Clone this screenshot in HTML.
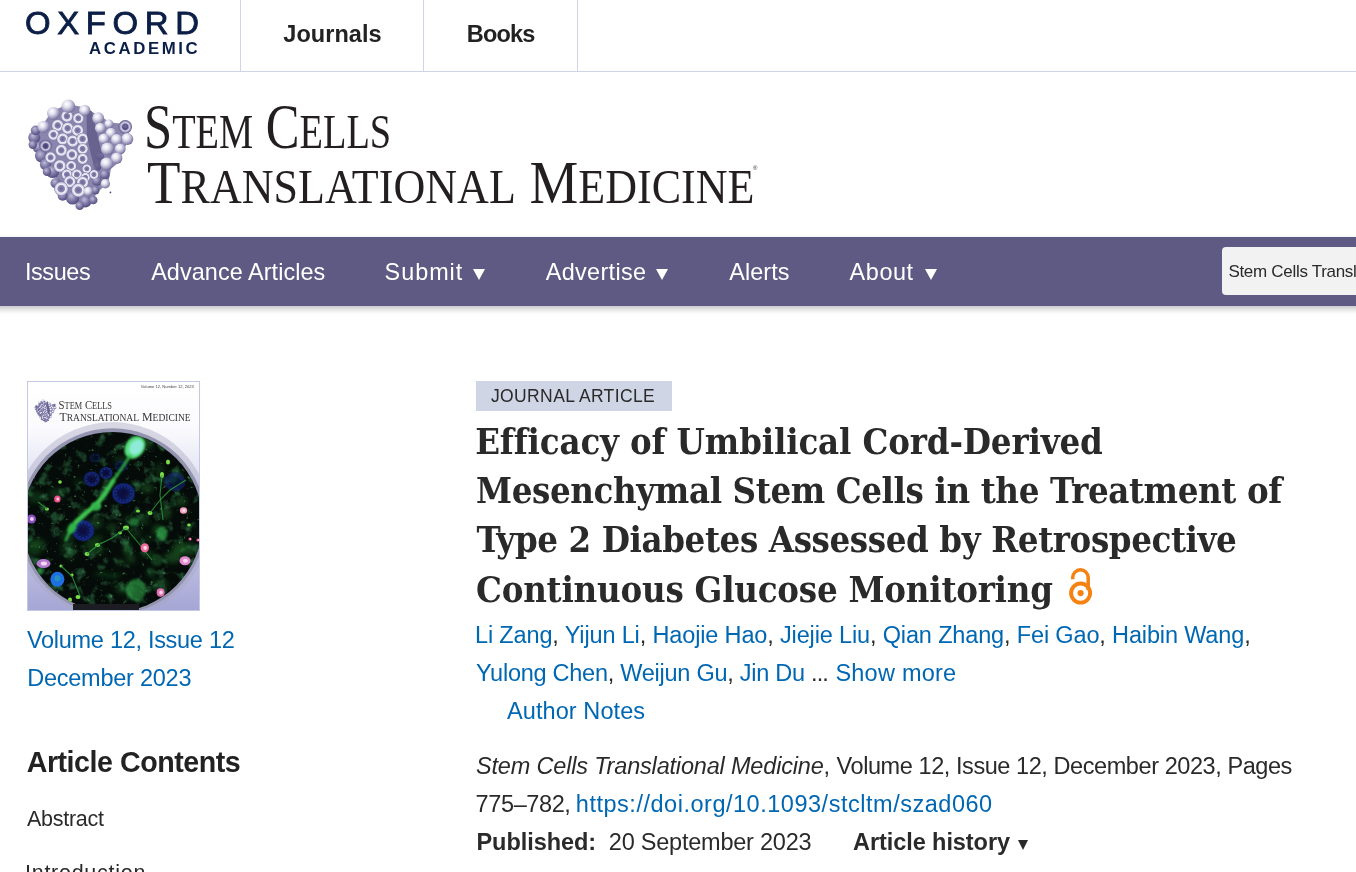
<!DOCTYPE html>
<html lang="en">
<head>
<meta charset="utf-8">
<title>Efficacy of Umbilical Cord-Derived Mesenchymal Stem Cells in the Treatment of Type 2 Diabetes</title>
<style>
*{box-sizing:border-box;margin:0;padding:0}
html,body{width:1356px;height:872px;overflow:hidden;background:#fff}
body{font-family:"Liberation Sans",sans-serif;color:#2a2a2a;position:relative}
a{text-decoration:none;color:#0067b3}
.abs{position:absolute;white-space:nowrap}

/* top bar */
#topbar{position:absolute;left:0;top:0;width:1356px;height:72px;border-bottom:1px solid #cfd5e6}
.vdiv{position:absolute;top:0;width:1px;height:71px;background:#cfd5e6}
#oxford{font-size:30.6px;line-height:34px;color:#0b1e46;font-weight:400;-webkit-text-stroke:.8px #0b1e46;transform:scaleX(1.075);transform-origin:0 0}
#academic{font-size:16.8px;line-height:20px;color:#0b1e46;font-weight:700}
.toplink{font-weight:700;font-size:23.5px;line-height:30px;color:#222;top:18px;letter-spacing:.35px}

/* journal banner */
.jt{font-family:"Liberation Serif",serif;color:#231f20;font-size:63.4px;line-height:62px;transform-origin:0 0}
.jt span{font-size:47.5px}

/* nav */
#navbg{position:absolute;left:-30px;top:237px;width:1416px;height:68.6px;background:#5f5a83;box-shadow:0 3px 6px rgba(0,0,0,.24)}
#nav{position:absolute;left:0;top:237px;width:1356px;height:68.6px}
.navi{color:#fff;font-size:23.4px;line-height:30px;top:19px;letter-spacing:.3px}
.tri{position:absolute;width:0;height:0;border-left:6.5px solid transparent;border-right:6.5px solid transparent;border-top:11.3px solid #fff}
#search{position:absolute;left:1222px;top:9.9px;width:140px;height:47.9px;background:#f2f2f2;border-radius:4px 0 0 4px;color:#2a2a2a;font-size:17px;line-height:47px;white-space:nowrap;overflow:hidden}

/* left column */
.blue{color:#0067b3}
.side{font-size:23.5px;line-height:38px}
#ac{font-weight:700;font-size:28.6px;line-height:36px;color:#222}
.toc{font-size:21.5px;line-height:30px;color:#2a2a2a}

/* main */
#badge{position:absolute;left:476px;top:381.1px;width:195.8px;height:29.6px;background:#d0d5e6;color:#2a2a2a;font-size:17.5px;line-height:30px;white-space:nowrap}
#title{position:absolute;left:476px;top:416px;width:860px;font-family:"DejaVu Serif Condensed","DejaVu Serif","Liberation Serif",serif;font-stretch:condensed;font-weight:700;font-size:36.2px;line-height:49.2px;color:#2a2a2a;white-space:nowrap}
.auth{font-size:23.5px;line-height:38px;color:#2a2a2a}
.cite{font-size:23.5px;line-height:38px;color:#2a2a2a}
</style>
</head>
<body>

<div id="topbar">
  <div class="abs" id="oxford" style="left:25.0px;top:5.6px;letter-spacing:6.20px">OXFORD</div>
  <div class="abs" id="academic" style="left:89.0px;top:38.7px;letter-spacing:2.60px">ACADEMIC</div>
  <div class="vdiv" style="left:240px"></div>
  <div class="abs toplink" id="journals" style="left:283.3px;top:19.3px;letter-spacing:0.04px">Journals</div>
  <div class="vdiv" style="left:423px"></div>
  <div class="abs toplink" id="books" style="left:466.8px;top:19.3px;letter-spacing:-0.80px">Books</div>
  <div class="vdiv" style="left:577px"></div>
</div>

<div id="banner">
  <div class="abs jt" id="jtitle1" style="left:143.6px;top:96.1px;transform:scaleX(.799)">S<span style="font-size:48px">TEM</span> C<span style="font-size:48px">ELLS</span></div>
  <div class="abs jt" id="jtitle2" style="left:147.4px;top:151.7px;transform:scaleX(.9066);font-size:60.5px">T<span style="font-size:48.6px">RANSLATIONAL</span> M<span style="font-size:48.6px">EDICINE</span></div>
  <div class="abs" style="left:753px;top:164px;font-size:6px;line-height:8px;color:#231f20;font-family:'Liberation Sans',sans-serif">®</div>
</div>

<div id="navbg"></div>
<div id="nav">
  <div class="abs navi" id="issues" style="left:24.9px;top:20.2px;letter-spacing:-0.36px">Issues</div>
  <div class="abs navi" id="advance" style="left:151.2px;top:20.2px;letter-spacing:0.08px">Advance Articles</div>
  <div class="abs navi" id="submit" style="left:384.6px;top:20.2px;letter-spacing:0.98px">Submit</div>
  <div class="abs navi" id="advertise" style="left:545.8px;top:20.2px;letter-spacing:0.34px">Advertise</div>
  <div class="abs navi" id="alerts" style="left:729.2px;top:20.2px;letter-spacing:0.10px">Alerts</div>
  <div class="abs navi" id="about" style="left:849.6px;top:20.2px;letter-spacing:0.60px">About</div>
  <div class="tri" style="left:473.4px;top:31.9px"></div>
  <div class="tri" style="left:655.9px;top:31.9px"></div>
  <div class="tri" style="left:924.6px;top:31.9px"></div>
  <div id="search"><span class="abs" id="searchtxt" style="left:6.4px;top:0.7px;letter-spacing:-0.3px">Stem Cells Translational Medicine</span></div>
</div>

<!--GFX-->
<svg style="position:absolute;left:20px;top:92px" width="124" height="124" viewBox="0 0 872 872"><defs><radialGradient id="lgs" cx="38%" cy="34%" r="70%"><stop offset="0" stop-color="#ffffff"/><stop offset=".35" stop-color="#e4e2f0"/><stop offset=".75" stop-color="#9e9abd"/><stop offset="1" stop-color="#696590"/></radialGradient><radialGradient id="lgd" cx="40%" cy="35%" r="70%"><stop offset="0" stop-color="#bebbd8"/><stop offset=".5" stop-color="#807ba8"/><stop offset="1" stop-color="#4c4679"/></radialGradient><radialGradient id="lgr" cx="50%" cy="50%" r="50%"><stop offset="0" stop-color="#6a6494"/><stop offset=".45" stop-color="#8a85b0"/><stop offset=".6" stop-color="#f0eff7"/><stop offset=".82" stop-color="#d9d7ea"/><stop offset="1" stop-color="#7b75a2"/></radialGradient><radialGradient id="lgq" cx="50%" cy="50%" r="50%"><stop offset="0" stop-color="#3f3a6b"/><stop offset=".4" stop-color="#5d578c"/><stop offset=".6" stop-color="#d5d3e8"/><stop offset="1" stop-color="#5a5488"/></radialGradient><filter id="lgb" x="-5%" y="-5%" width="110%" height="110%"><feGaussianBlur stdDeviation="5.2"/></filter></defs><g filter="url(#lgb)"><path d="M340 85 L460 110 L550 165 L640 215 L735 225 L770 300 L760 350 L720 420 L700 490 L640 540 L620 640 L550 700 L490 780 L440 790 L360 770 L290 720 L265 680 L275 620 L210 570 L150 490 L115 400 L90 320 L130 270 L170 215 L225 135 Z" fill="#8985ad"/><circle cx="100" cy="320" r="42" fill="url(#lgd)"/><circle cx="130" cy="390" r="40" fill="url(#lgd)"/><circle cx="150" cy="450" r="45" fill="url(#lgd)"/><circle cx="180" cy="510" r="40" fill="url(#lgd)"/><circle cx="230" cy="560" r="45" fill="url(#lgd)"/><circle cx="595" cy="580" r="35" fill="url(#lgd)"/><circle cx="540" cy="625" r="35" fill="url(#lgd)"/><circle cx="530" cy="690" r="30" fill="url(#lgd)"/><circle cx="370" cy="745" r="47" fill="url(#lgd)"/><circle cx="460" cy="770" r="42" fill="url(#lgd)"/><circle cx="300" cy="730" r="35" fill="url(#lgd)"/><circle cx="560" cy="450" r="30" fill="url(#lgd)"/><circle cx="545" cy="520" r="30" fill="url(#lgd)"/><circle cx="110" cy="270" r="34" fill="url(#lgd)"/><circle cx="250" cy="640" r="36" fill="url(#lgd)"/><circle cx="420" cy="800" r="30" fill="url(#lgd)"/><circle cx="515" cy="760" r="30" fill="url(#lgd)"/><circle cx="190" cy="560" r="30" fill="url(#lgd)"/><circle cx="90" cy="370" r="30" fill="url(#lgd)"/><circle cx="330" cy="170" r="43" fill="url(#lgr)"/><circle cx="410" cy="185" r="40" fill="url(#lgr)"/><circle cx="265" cy="235" r="43" fill="url(#lgr)"/><circle cx="335" cy="255" r="43" fill="url(#lgr)"/><circle cx="405" cy="270" r="43" fill="url(#lgr)"/><circle cx="235" cy="300" r="40" fill="url(#lgr)"/><circle cx="300" cy="330" r="43" fill="url(#lgr)"/><circle cx="370" cy="345" r="43" fill="url(#lgr)"/><circle cx="440" cy="330" r="43" fill="url(#lgr)"/><circle cx="290" cy="410" r="43" fill="url(#lgr)"/><circle cx="365" cy="440" r="43" fill="url(#lgr)"/><circle cx="440" cy="400" r="40" fill="url(#lgr)"/><circle cx="215" cy="460" r="40" fill="url(#lgr)"/><circle cx="280" cy="520" r="45" fill="url(#lgr)"/><circle cx="360" cy="520" r="39" fill="url(#lgr)"/><circle cx="440" cy="470" r="39" fill="url(#lgr)"/><circle cx="470" cy="540" r="34" fill="url(#lgr)"/><circle cx="330" cy="580" r="39" fill="url(#lgr)"/><circle cx="400" cy="580" r="39" fill="url(#lgr)"/><circle cx="460" cy="600" r="34" fill="url(#lgr)"/><circle cx="520" cy="580" r="34" fill="url(#lgr)"/><circle cx="350" cy="630" r="43" fill="url(#lgr)"/><circle cx="440" cy="635" r="43" fill="url(#lgr)"/><circle cx="290" cy="680" r="50" fill="url(#lgr)"/><circle cx="410" cy="690" r="50" fill="url(#lgr)"/><circle cx="180" cy="380" r="44" fill="url(#lgq)"/><circle cx="740" cy="245" r="48" fill="url(#lgq)"/><path d="M468 120 L505 135 L545 300 L575 430 L560 560 L520 520 L490 400 L470 300 Z" fill="#5d5886" opacity=".78"/><circle cx="340" cy="100" r="48" fill="url(#lgs)"/><circle cx="235" cy="150" r="45" fill="url(#lgs)"/><circle cx="455" cy="130" r="40" fill="url(#lgs)"/><circle cx="550" cy="185" r="42" fill="url(#lgs)"/><circle cx="165" cy="245" r="42" fill="url(#lgs)"/><circle cx="625" cy="225" r="32" fill="url(#lgs)"/><circle cx="565" cy="255" r="38" fill="url(#lgs)"/><circle cx="640" cy="290" r="38" fill="url(#lgs)"/><circle cx="755" cy="330" r="42" fill="url(#lgs)"/><circle cx="680" cy="335" r="40" fill="url(#lgs)"/><circle cx="590" cy="330" r="38" fill="url(#lgs)"/><circle cx="615" cy="400" r="45" fill="url(#lgs)"/><circle cx="705" cy="400" r="38" fill="url(#lgs)"/><circle cx="680" cy="465" r="40" fill="url(#lgs)"/><circle cx="610" cy="505" r="45" fill="url(#lgs)"/><circle cx="600" cy="645" r="33" fill="url(#lgs)"/><circle cx="480" cy="700" r="33" fill="url(#lgs)"/><circle cx="740" cy="240" r="14" fill="#6a6496"/><circle cx="636" cy="706" r="6" fill="#4a4570"/></g></svg>
<svg style="position:absolute;left:27px;top:381px" width="173" height="230" viewBox="0 0 173 230"><defs><linearGradient id="cvbg" x1="0" y1="0" x2="0" y2="1"><stop offset="0" stop-color="#ffffff"/><stop offset=".2" stop-color="#fbfbfe"/><stop offset=".55" stop-color="#d4d4ec"/><stop offset="1" stop-color="#a6a6d6"/></linearGradient><clipPath id="cvclip"><circle cx="85.5" cy="141" r="90"/></clipPath><clipPath id="cvall"><rect x="0" y="0" width="173" height="230"/></clipPath><filter id="cvb1" x="-20%" y="-20%" width="140%" height="140%"><feGaussianBlur stdDeviation="1.1"/></filter><filter id="cvb2" x="-30%" y="-30%" width="160%" height="160%"><feGaussianBlur stdDeviation="2.4"/></filter><filter id="cvb0" x="-20%" y="-20%" width="140%" height="140%"><feGaussianBlur stdDeviation="0.6"/></filter><filter id="cvn" x="0" y="0" width="100%" height="100%"><feTurbulence type="fractalNoise" baseFrequency="0.085" numOctaves="3" seed="11"/><feColorMatrix type="matrix" values="0 0 0 0 0.04  0 0 0 0 0.26  0 0 0 0 0.09  3.4 0 0 0 -1.85"/></filter><filter id="cvn2" x="0" y="0" width="100%" height="100%"><feTurbulence type="fractalNoise" baseFrequency="0.22" numOctaves="2" seed="5"/><feColorMatrix type="matrix" values="0 0 0 0 0.12  0 0 0 0 0.5  0 0 0 0 0.16  7 0 0 0 -4.9"/></filter><radialGradient id="cvnu" cx="50%" cy="50%" r="50%"><stop offset="0" stop-color="#070c38"/><stop offset=".55" stop-color="#0c1658"/><stop offset=".85" stop-color="#172a8c"/><stop offset="1" stop-color="#0b1450" stop-opacity=".4"/></radialGradient></defs><g clip-path="url(#cvall)"><rect x="0" y="0" width="173" height="230" fill="url(#cvbg)"/><circle cx="85.5" cy="139" r="98" fill="#a8a8c2" opacity=".42" filter="url(#cvb0)"/><circle cx="85.5" cy="140.5" r="93.2" fill="#9594b0"/><circle cx="85.5" cy="141" r="90" fill="#050b08"/><g clip-path="url(#cvclip)"><g filter="url(#cvb2)"><ellipse cx="70.6" cy="170.9" rx="6.9" ry="2.4" fill="#1f6a2a" opacity="0.44"/><ellipse cx="71.7" cy="156.5" rx="6.0" ry="2.2" fill="#1f6a2a" opacity="0.40"/><ellipse cx="108.9" cy="152.0" rx="5.5" ry="6.1" fill="#1f6a2a" opacity="0.29"/><ellipse cx="96.9" cy="208.2" rx="8.7" ry="4.9" fill="#1f6a2a" opacity="0.39"/><ellipse cx="103.9" cy="138.2" rx="8.2" ry="3.4" fill="#1f6a2a" opacity="0.30"/><ellipse cx="120.8" cy="173.2" rx="7.9" ry="2.9" fill="#1f6a2a" opacity="0.45"/><ellipse cx="51.8" cy="100.8" rx="6.3" ry="2.3" fill="#1f6a2a" opacity="0.27"/><ellipse cx="104.9" cy="209.2" rx="5.6" ry="3.6" fill="#1f6a2a" opacity="0.45"/><ellipse cx="40.4" cy="154.7" rx="7.8" ry="5.5" fill="#1f6a2a" opacity="0.34"/><ellipse cx="29.9" cy="112.9" rx="8.3" ry="5.6" fill="#1f6a2a" opacity="0.35"/><ellipse cx="114.8" cy="137.3" rx="5.5" ry="5.8" fill="#1f6a2a" opacity="0.30"/><ellipse cx="68.5" cy="142.2" rx="7.0" ry="5.8" fill="#1f6a2a" opacity="0.45"/><ellipse cx="119.7" cy="107.0" rx="7.2" ry="5.0" fill="#1f6a2a" opacity="0.45"/><ellipse cx="9.6" cy="162.4" rx="8.7" ry="4.4" fill="#1f6a2a" opacity="0.48"/><ellipse cx="152.4" cy="167.8" rx="6.9" ry="7.0" fill="#1f6a2a" opacity="0.54"/><ellipse cx="74.0" cy="193.2" rx="7.0" ry="2.1" fill="#1f6a2a" opacity="0.41"/><ellipse cx="100.0" cy="166.6" rx="3.4" ry="5.8" fill="#1f6a2a" opacity="0.30"/><ellipse cx="86.3" cy="194.8" rx="8.2" ry="2.4" fill="#1f6a2a" opacity="0.41"/><ellipse cx="8.5" cy="116.3" rx="7.9" ry="6.3" fill="#1f6a2a" opacity="0.35"/><ellipse cx="41.1" cy="167.1" rx="8.3" ry="6.8" fill="#1f6a2a" opacity="0.30"/><ellipse cx="104.0" cy="178.0" rx="4.4" ry="4.4" fill="#1f6a2a" opacity="0.46"/><ellipse cx="85.1" cy="146.5" rx="5.5" ry="3.8" fill="#1f6a2a" opacity="0.45"/><ellipse cx="153.9" cy="120.2" rx="6.1" ry="5.1" fill="#1f6a2a" opacity="0.49"/><ellipse cx="162.4" cy="168.1" rx="7.7" ry="6.4" fill="#1f6a2a" opacity="0.53"/><ellipse cx="43.1" cy="175.0" rx="3.6" ry="5.2" fill="#1f6a2a" opacity="0.27"/><ellipse cx="121.3" cy="157.1" rx="4.0" ry="3.7" fill="#1f6a2a" opacity="0.27"/><ellipse cx="118.9" cy="141.0" rx="3.6" ry="3.8" fill="#1f6a2a" opacity="0.26"/><ellipse cx="133.0" cy="93.1" rx="3.9" ry="3.3" fill="#1f6a2a" opacity="0.37"/><ellipse cx="65.7" cy="163.7" rx="8.1" ry="7.0" fill="#1f6a2a" opacity="0.41"/><ellipse cx="60.4" cy="143.6" rx="3.6" ry="3.7" fill="#1f6a2a" opacity="0.34"/><ellipse cx="101.9" cy="110.6" rx="3.1" ry="6.8" fill="#1f6a2a" opacity="0.43"/><ellipse cx="123.8" cy="191.5" rx="3.2" ry="4.6" fill="#1f6a2a" opacity="0.59"/><ellipse cx="132.4" cy="86.7" rx="4.6" ry="3.8" fill="#1f6a2a" opacity="0.31"/><ellipse cx="94.1" cy="78.8" rx="7.7" ry="3.6" fill="#1f6a2a" opacity="0.33"/><ellipse cx="117.7" cy="61.9" rx="8.1" ry="6.0" fill="#1f6a2a" opacity="0.54"/><ellipse cx="82.9" cy="100.1" rx="6.1" ry="3.8" fill="#1f6a2a" opacity="0.26"/><ellipse cx="130.3" cy="148.9" rx="4.6" ry="5.5" fill="#1f6a2a" opacity="0.58"/><ellipse cx="6.8" cy="168.1" rx="8.9" ry="6.8" fill="#1f6a2a" opacity="0.38"/><ellipse cx="93.1" cy="181.3" rx="4.2" ry="3.0" fill="#1f6a2a" opacity="0.47"/><ellipse cx="149.4" cy="94.8" rx="5.9" ry="5.3" fill="#1f6a2a" opacity="0.53"/><ellipse cx="145.7" cy="176.5" rx="8.5" ry="5.9" fill="#1f6a2a" opacity="0.51"/><ellipse cx="49.5" cy="146.0" rx="7.7" ry="3.7" fill="#1f6a2a" opacity="0.53"/><ellipse cx="138.8" cy="131.4" rx="5.4" ry="6.7" fill="#1f6a2a" opacity="0.50"/><ellipse cx="100.3" cy="167.9" rx="3.9" ry="6.5" fill="#1f6a2a" opacity="0.53"/><ellipse cx="133.0" cy="203.1" rx="8.9" ry="5.3" fill="#1f6a2a" opacity="0.37"/><ellipse cx="55.8" cy="131.6" rx="3.1" ry="6.9" fill="#1f6a2a" opacity="0.48"/></g><rect x="0" y="0" width="173" height="230" filter="url(#cvn)" opacity=".62"/><rect x="0" y="0" width="173" height="230" filter="url(#cvn2)" opacity=".55"/><g filter="url(#cvb0)"><ellipse cx="64.8" cy="98.0" rx="8.5" ry="8" fill="url(#cvnu)" opacity="0.8"/><ellipse cx="64.8" cy="98.0" rx="5.3" ry="5.0" fill="none" stroke="#2a48c0" stroke-width="1.2" stroke-dasharray="1.2 2.2" opacity="0.56"/><ellipse cx="79.0" cy="92.0" rx="7" ry="6.5" fill="url(#cvnu)" opacity="0.8"/><ellipse cx="79.0" cy="92.0" rx="4.3" ry="4.0" fill="none" stroke="#2a48c0" stroke-width="1.2" stroke-dasharray="1.2 2.2" opacity="0.56"/><ellipse cx="96.5" cy="112.5" rx="12" ry="11" fill="url(#cvnu)" opacity="0.9"/><ellipse cx="96.5" cy="112.5" rx="7.4" ry="6.8" fill="none" stroke="#2a48c0" stroke-width="1.2" stroke-dasharray="1.2 2.2" opacity="0.63"/><ellipse cx="56.2" cy="149.6" rx="11.5" ry="11" fill="url(#cvnu)" opacity="0.95"/><ellipse cx="56.2" cy="149.6" rx="7.1" ry="6.8" fill="none" stroke="#2a48c0" stroke-width="1.2" stroke-dasharray="1.2 2.2" opacity="0.66"/><ellipse cx="148.0" cy="100.8" rx="11" ry="10" fill="url(#cvnu)" opacity="0.55"/><ellipse cx="148.0" cy="100.8" rx="6.8" ry="6.2" fill="none" stroke="#2a48c0" stroke-width="1.2" stroke-dasharray="1.2 2.2" opacity="0.39"/><ellipse cx="94.0" cy="85.0" rx="7" ry="6" fill="url(#cvnu)" opacity="0.4"/><ellipse cx="94.0" cy="85.0" rx="4.3" ry="3.7" fill="none" stroke="#2a48c0" stroke-width="1.2" stroke-dasharray="1.2 2.2" opacity="0.28"/><ellipse cx="68.0" cy="77.0" rx="6" ry="5" fill="url(#cvnu)" opacity="0.35"/><ellipse cx="68.0" cy="77.0" rx="3.7" ry="3.1" fill="none" stroke="#2a48c0" stroke-width="1.2" stroke-dasharray="1.2 2.2" opacity="0.24"/></g><g filter="url(#cvb1)"><ellipse cx="107.8" cy="66.4" rx="9.5" ry="12" transform="rotate(35 107.8 66.4)" fill="#57e079"/><ellipse cx="108.8" cy="65.4" rx="6.2" ry="8.2" transform="rotate(35 107.8 66.4)" fill="#8fead8"/><path d="M103.0 75.0 L95.0 87.0 L86.0 100.0 L77.0 114.0 L69.0 124.0 L59.0 132.0 L49.0 141.0 L43.0 150.0 L39.0 159.0" fill="none" stroke="#2fb044" stroke-width="2.6" stroke-linecap="round" stroke-linejoin="round"/><path d="M86.0 100.0 L77.0 114.0 L69.0 124.0 L59.0 132.0 L49.0 141.0 L43.0 150.0" fill="none" stroke="#3cc650" stroke-width="4.6" stroke-linecap="round" stroke-linejoin="round"/><ellipse cx="69.0" cy="125.0" rx="5" ry="4" fill="#3fcf55"/><ellipse cx="45.0" cy="147.0" rx="4" ry="6" transform="rotate(30 45.0 147.0)" fill="#2fb545"/></g><g filter="url(#cvb0)"><ellipse cx="99.0" cy="146.7" rx="3" ry="2.2" fill="#7be04a"/><ellipse cx="70.5" cy="164.0" rx="2.6" ry="2" fill="#7be04a"/><ellipse cx="60.0" cy="173.0" rx="2.4" ry="2" fill="#7be04a"/><ellipse cx="123.0" cy="132.0" rx="2.5" ry="2" fill="#7be04a"/><ellipse cx="111.0" cy="130.0" rx="2" ry="1.6" fill="#7be04a"/><ellipse cx="20.0" cy="128.0" rx="2" ry="1.5" fill="#7be04a"/><ellipse cx="51.0" cy="216.0" rx="2.5" ry="2" fill="#7be04a"/><ellipse cx="43.0" cy="219.0" rx="2" ry="2.4" fill="#7be04a"/><ellipse cx="93.0" cy="152.0" rx="2" ry="1.4" fill="#7be04a"/><ellipse cx="135.0" cy="94.0" rx="2" ry="3" fill="#7be04a"/><ellipse cx="141.0" cy="81.0" rx="2" ry="2.5" fill="#7be04a"/><ellipse cx="33.0" cy="101.0" rx="1.8" ry="1.8" fill="#7be04a"/><ellipse cx="162.0" cy="144.0" rx="1.8" ry="1.4" fill="#7be04a"/><ellipse cx="34.0" cy="185.0" rx="1.6" ry="1.6" fill="#7be04a"/><ellipse cx="45.0" cy="194.0" rx="1.6" ry="1.6" fill="#7be04a"/><path d="M99.0 147.0 L85.0 157.0 L71.0 164.0 L60.0 173.0" fill="none" stroke="#2c9a3c" stroke-width="1.1" opacity=".85"/><path d="M123.0 132.0 L133.0 119.0 L143.0 109.0 L159.0 99.0" fill="none" stroke="#2c9a3c" stroke-width="1.1" opacity=".85"/><path d="M99.0 147.0 L113.0 164.0 L125.0 179.0" fill="none" stroke="#2c9a3c" stroke-width="1.1" opacity=".85"/><path d="M135.0 94.0 L133.0 114.0 L136.0 139.0" fill="none" stroke="#2c9a3c" stroke-width="1.1" opacity=".85"/><path d="M20.0 128.0 L11.0 121.0" fill="none" stroke="#2c9a3c" stroke-width="1.1" opacity=".85"/><path d="M34.0 185.0 L45.0 195.0 L53.0 215.0" fill="none" stroke="#2c9a3c" stroke-width="1.1" opacity=".85"/></g><g filter="url(#cvb1)"><ellipse cx="135.0" cy="152.5" rx="5.5" ry="7" fill="#2f9e45" opacity="0.75"/><ellipse cx="109.0" cy="209.0" rx="10" ry="11" fill="#2f9e45" opacity="0.6"/><ellipse cx="107.0" cy="141.0" rx="5" ry="4" fill="#2f9e45" opacity="0.6"/><ellipse cx="69.0" cy="126.0" rx="4" ry="4" fill="#2f9e45" opacity="0.6"/><ellipse cx="13.0" cy="190.0" rx="3.5" ry="3.5" fill="#2f9e45" opacity="0.8"/><ellipse cx="130.0" cy="179.0" rx="6" ry="6" fill="#2f9e45" opacity="0.3"/></g><g filter="url(#cvb0)"><ellipse cx="30.4" cy="118.0" rx="3.2" ry="3.6" fill="#f0508a"/><ellipse cx="30.8" cy="118.0" rx="1.4" ry="1.6" fill="#ffe6f2" opacity=".85"/><ellipse cx="156.5" cy="129.5" rx="3.6" ry="3.2" fill="#f7a0c0"/><ellipse cx="156.9" cy="129.5" rx="1.6" ry="1.4" fill="#ffe6f2" opacity=".85"/><ellipse cx="117.8" cy="166.8" rx="4.2" ry="4.6" fill="#f06a9a"/><ellipse cx="118.2" cy="166.8" rx="1.9" ry="2.1" fill="#ffe6f2" opacity=".85"/><ellipse cx="158.0" cy="179.7" rx="5.5" ry="4.5" fill="#e08ad0"/><ellipse cx="158.4" cy="179.7" rx="2.5" ry="2.0" fill="#ffe6f2" opacity=".85"/><ellipse cx="4.5" cy="138.0" rx="4.5" ry="4.5" fill="#8a4fc0"/><ellipse cx="4.9" cy="138.0" rx="2.0" ry="2.0" fill="#ffe6f2" opacity=".85"/><ellipse cx="16.5" cy="182.6" rx="7" ry="4.5" fill="#b57ad0"/><ellipse cx="16.9" cy="182.6" rx="3.1" ry="2.0" fill="#ffe6f2" opacity=".85"/><ellipse cx="133.6" cy="211.5" rx="4" ry="4.2" fill="#e070b0"/><ellipse cx="134.0" cy="211.5" rx="1.8" ry="1.9" fill="#ffe6f2" opacity=".85"/><ellipse cx="163.0" cy="158.0" rx="1.6" ry="1.6" fill="#f0508a"/><ellipse cx="163.4" cy="158.0" rx="0.7" ry="0.7" fill="#ffe6f2" opacity=".85"/><ellipse cx="171.0" cy="159.0" rx="1.6" ry="1.6" fill="#f0508a"/><ellipse cx="171.4" cy="159.0" rx="0.7" ry="0.7" fill="#ffe6f2" opacity=".85"/><ellipse cx="30.4" cy="198.3" rx="7" ry="7.5" fill="#1f6fe0"/><ellipse cx="30.4" cy="197.3" rx="3" ry="3" fill="#2aa0b0" opacity=".7"/></g></g><rect x="46" y="223" width="66" height="7" fill="#1c1c22"/></g><rect x=".5" y=".5" width="172" height="229" fill="none" stroke="#c3c8e6" stroke-width="1"/><text x="166.8" y="7" text-anchor="end" font-family="Liberation Sans, sans-serif" font-size="4.3" fill="#444" textLength="53" lengthAdjust="spacingAndGlyphs">Volume 12, Number 12, 2023</text><text x="31.6" y="28.4" font-family="Liberation Serif, serif" font-size="13.4" fill="#3a3637" textLength="53.4" lengthAdjust="spacingAndGlyphs">S<tspan font-size="10.4">TEM</tspan> C<tspan font-size="10.4">ELLS</tspan></text><text x="32.4" y="39.9" font-family="Liberation Serif, serif" font-size="13" fill="#3a3637" textLength="131.2" lengthAdjust="spacingAndGlyphs">T<tspan font-size="10.4">RANSLATIONAL</tspan> M<tspan font-size="10.4">EDICINE</tspan></text></svg>
<svg style="position:absolute;left:32.5px;top:398.2px" width="25.5" height="25.5" viewBox="0 0 872 872"><defs><radialGradient id="lms" cx="38%" cy="34%" r="70%"><stop offset="0" stop-color="#ffffff"/><stop offset=".35" stop-color="#e4e2f0"/><stop offset=".75" stop-color="#9e9abd"/><stop offset="1" stop-color="#696590"/></radialGradient><radialGradient id="lmd" cx="40%" cy="35%" r="70%"><stop offset="0" stop-color="#bebbd8"/><stop offset=".5" stop-color="#807ba8"/><stop offset="1" stop-color="#4c4679"/></radialGradient><radialGradient id="lmr" cx="50%" cy="50%" r="50%"><stop offset="0" stop-color="#6a6494"/><stop offset=".45" stop-color="#8a85b0"/><stop offset=".6" stop-color="#f0eff7"/><stop offset=".82" stop-color="#d9d7ea"/><stop offset="1" stop-color="#7b75a2"/></radialGradient><radialGradient id="lmq" cx="50%" cy="50%" r="50%"><stop offset="0" stop-color="#3f3a6b"/><stop offset=".4" stop-color="#5d578c"/><stop offset=".6" stop-color="#d5d3e8"/><stop offset="1" stop-color="#5a5488"/></radialGradient><filter id="lmb" x="-5%" y="-5%" width="110%" height="110%"><feGaussianBlur stdDeviation="1.8"/></filter></defs><g filter="url(#lmb)"><path d="M340 85 L460 110 L550 165 L640 215 L735 225 L770 300 L760 350 L720 420 L700 490 L640 540 L620 640 L550 700 L490 780 L440 790 L360 770 L290 720 L265 680 L275 620 L210 570 L150 490 L115 400 L90 320 L130 270 L170 215 L225 135 Z" fill="#8985ad"/><circle cx="100" cy="320" r="42" fill="url(#lmd)"/><circle cx="130" cy="390" r="40" fill="url(#lmd)"/><circle cx="150" cy="450" r="45" fill="url(#lmd)"/><circle cx="180" cy="510" r="40" fill="url(#lmd)"/><circle cx="230" cy="560" r="45" fill="url(#lmd)"/><circle cx="595" cy="580" r="35" fill="url(#lmd)"/><circle cx="540" cy="625" r="35" fill="url(#lmd)"/><circle cx="530" cy="690" r="30" fill="url(#lmd)"/><circle cx="370" cy="745" r="47" fill="url(#lmd)"/><circle cx="460" cy="770" r="42" fill="url(#lmd)"/><circle cx="300" cy="730" r="35" fill="url(#lmd)"/><circle cx="560" cy="450" r="30" fill="url(#lmd)"/><circle cx="545" cy="520" r="30" fill="url(#lmd)"/><circle cx="110" cy="270" r="34" fill="url(#lmd)"/><circle cx="250" cy="640" r="36" fill="url(#lmd)"/><circle cx="420" cy="800" r="30" fill="url(#lmd)"/><circle cx="515" cy="760" r="30" fill="url(#lmd)"/><circle cx="190" cy="560" r="30" fill="url(#lmd)"/><circle cx="90" cy="370" r="30" fill="url(#lmd)"/><circle cx="330" cy="170" r="43" fill="url(#lmr)"/><circle cx="410" cy="185" r="40" fill="url(#lmr)"/><circle cx="265" cy="235" r="43" fill="url(#lmr)"/><circle cx="335" cy="255" r="43" fill="url(#lmr)"/><circle cx="405" cy="270" r="43" fill="url(#lmr)"/><circle cx="235" cy="300" r="40" fill="url(#lmr)"/><circle cx="300" cy="330" r="43" fill="url(#lmr)"/><circle cx="370" cy="345" r="43" fill="url(#lmr)"/><circle cx="440" cy="330" r="43" fill="url(#lmr)"/><circle cx="290" cy="410" r="43" fill="url(#lmr)"/><circle cx="365" cy="440" r="43" fill="url(#lmr)"/><circle cx="440" cy="400" r="40" fill="url(#lmr)"/><circle cx="215" cy="460" r="40" fill="url(#lmr)"/><circle cx="280" cy="520" r="45" fill="url(#lmr)"/><circle cx="360" cy="520" r="39" fill="url(#lmr)"/><circle cx="440" cy="470" r="39" fill="url(#lmr)"/><circle cx="470" cy="540" r="34" fill="url(#lmr)"/><circle cx="330" cy="580" r="39" fill="url(#lmr)"/><circle cx="400" cy="580" r="39" fill="url(#lmr)"/><circle cx="460" cy="600" r="34" fill="url(#lmr)"/><circle cx="520" cy="580" r="34" fill="url(#lmr)"/><circle cx="350" cy="630" r="43" fill="url(#lmr)"/><circle cx="440" cy="635" r="43" fill="url(#lmr)"/><circle cx="290" cy="680" r="50" fill="url(#lmr)"/><circle cx="410" cy="690" r="50" fill="url(#lmr)"/><circle cx="180" cy="380" r="44" fill="url(#lmq)"/><circle cx="740" cy="245" r="48" fill="url(#lmq)"/><path d="M468 120 L505 135 L545 300 L575 430 L560 560 L520 520 L490 400 L470 300 Z" fill="#5d5886" opacity=".78"/><circle cx="340" cy="100" r="48" fill="url(#lms)"/><circle cx="235" cy="150" r="45" fill="url(#lms)"/><circle cx="455" cy="130" r="40" fill="url(#lms)"/><circle cx="550" cy="185" r="42" fill="url(#lms)"/><circle cx="165" cy="245" r="42" fill="url(#lms)"/><circle cx="625" cy="225" r="32" fill="url(#lms)"/><circle cx="565" cy="255" r="38" fill="url(#lms)"/><circle cx="640" cy="290" r="38" fill="url(#lms)"/><circle cx="755" cy="330" r="42" fill="url(#lms)"/><circle cx="680" cy="335" r="40" fill="url(#lms)"/><circle cx="590" cy="330" r="38" fill="url(#lms)"/><circle cx="615" cy="400" r="45" fill="url(#lms)"/><circle cx="705" cy="400" r="38" fill="url(#lms)"/><circle cx="680" cy="465" r="40" fill="url(#lms)"/><circle cx="610" cy="505" r="45" fill="url(#lms)"/><circle cx="600" cy="645" r="33" fill="url(#lms)"/><circle cx="480" cy="700" r="33" fill="url(#lms)"/><circle cx="740" cy="240" r="14" fill="#6a6496"/><circle cx="636" cy="706" r="6" fill="#4a4570"/></g></svg>
<!--/GFX-->
<a class="abs side blue" id="vol" style="left:27.0px;top:620.5px;letter-spacing:-0.29px">Volume 12, Issue 12</a>
<a class="abs side blue" id="dec" style="left:27.2px;top:658.5px;letter-spacing:-0.24px">December 2023</a>
<div class="abs" id="ac" style="left:26.7px;top:743.9px;letter-spacing:-0.46px">Article Contents</div>
<div class="abs toc" id="abstract" style="left:27.0px;top:803.8px;letter-spacing:-0.28px">Abstract</div>
<div class="abs toc" id="intro" style="left:25.0px;top:857.7px;letter-spacing:0.73px">Introduction</div>

<div id="badge"><span class="abs" id="badgetxt" style="left:15.0px;top:-0.3px;letter-spacing:0.37px">JOURNAL ARTICLE</span></div>
<h1 id="title">
<span class="abs tl" id="t1" style="left:-0.8px;top:0.9px;letter-spacing:-0.15px">Efficacy of Umbilical Cord-Derived</span>
<span class="abs tl" id="t2" style="left:0.0px;top:50.1px;letter-spacing:-0.38px">Mesenchymal Stem Cells in the Treatment of</span>
<span class="abs tl" id="t3" style="left:0.5px;top:99.3px;letter-spacing:-0.39px">Type 2 Diabetes Assessed by Retrospective</span>
<span class="abs tl" id="t4" style="left:0.0px;top:148.5px;letter-spacing:-0.23px">Continuous Glucose Monitoring</span>
</h1>

<svg style="position:absolute;left:1064px;top:562px" width="34" height="48" viewBox="1064 562 34 48"><g fill="none" stroke="#f68212"><circle cx="1080.6" cy="593.1" r="9.55" stroke-width="3.9"/><path d="M1072.7 579.2V577.6a7.75 7.75 0 0 1 15.5 0V590" stroke-width="3.5"/></g><circle cx="1080.6" cy="593.1" r="3.1" fill="#f68212"/></svg>
<div style="position:absolute;left:1017.7px;top:839.7px;width:0;height:0;border-left:5.75px solid transparent;border-right:5.75px solid transparent;border-top:10.2px solid #2a2a2a"></div>
<div class="abs auth" id="auth1" style="left:475.0px;top:615.9px;letter-spacing:-0.15px"><a>Li Zang</a>, <a>Yijun Li</a>, <a>Haojie Hao</a>, <a>Jiejie Liu</a>, <a>Qian Zhang</a>, <a>Fei Gao</a>, <a>Haibin Wang</a>,</div>
<div class="abs auth" id="auth2" style="left:476.0px;top:653.9px;letter-spacing:-0.26px"><a>Yulong Chen</a>, <a>Weijun Gu</a>, <a>Jin Du</a></div>
<div class="abs auth" id="auth2b" style="left:811.0px;top:653.9px;letter-spacing:-0.90px">...</div>
<div class="abs auth" id="auth2c" style="left:835.4px;top:653.9px;letter-spacing:0.24px"><a>Show more</a></div>
<div class="abs auth" id="notes" style="left:507.0px;top:691.9px;letter-spacing:0.08px"><a>Author Notes</a></div>

<div class="abs cite" id="cite1" style="left:476.0px;top:746.9px;letter-spacing:-0.18px"><i>Stem Cells Translational Medicine</i>,</div>
<div class="abs cite" id="cite1b" style="left:836.6px;top:746.9px;letter-spacing:-0.43px">Volume 12, Issue 12, December 2023, Pages</div>
<div class="abs cite" id="cite2a" style="left:475.6px;top:784.9px;letter-spacing:-0.39px">775–782,</div>
<div class="abs cite" id="cite2b" style="left:575.8px;top:784.9px;letter-spacing:0.52px"><a>https://doi.org/10.1093/stcltm/szad060</a></div>
<div class="abs cite" id="pub" style="left:476.5px;top:822.9px;letter-spacing:-0.06px"><b>Published:</b></div>
<div class="abs cite" id="pubd" style="left:608.8px;top:822.9px;letter-spacing:-0.23px">20 September 2023</div>
<div class="abs cite" id="hist" style="left:853.0px;top:822.9px;letter-spacing:-0.07px"><b>Article history</b></div>

</body>
</html>
